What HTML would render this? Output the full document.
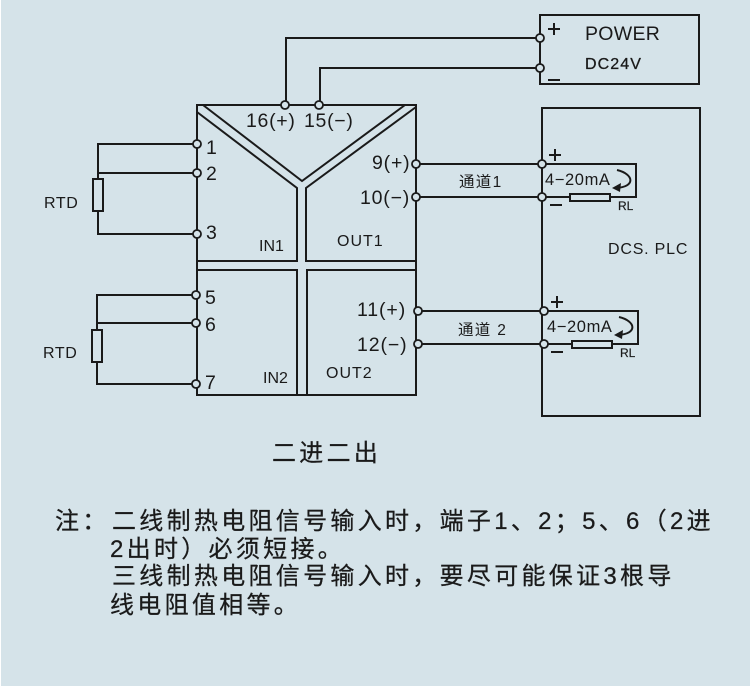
<!DOCTYPE html>
<html><head><meta charset="utf-8"><style>
html,body{margin:0;padding:0;background:#fff}
svg{display:block}
.l{fill:none;stroke:#1a1a1a;stroke-width:2}
.t{fill:#1a1a1a;stroke:none;font-family:"Liberation Sans","Noto Sans CJK SC",sans-serif}
.c{fill:#1a1a1a;stroke:#1a1a1a;stroke-width:.25;font-family:"Liberation Sans","Noto Sans CJK SC",sans-serif;font-size:24px;letter-spacing:3.3px}
.p{fill:#d5e3e9;stroke:#1a1a1a;stroke-width:1.8}
</style></head><body>
<svg width="750" height="687" viewBox="0 0 750 687" xmlns="http://www.w3.org/2000/svg">
<rect x="1" y="0" width="749" height="686" fill="#d5e3e9"/>
<g class="l">
<rect x="540" y="15" width="159" height="69"/>
<rect x="542" y="108" width="158" height="308"/>
<path d="M286 105V38H540M320 105V68H540"/>
<path d="M197 105H416V395H197Z"/>
<path d="M203 105L302 181L405 105M197 112L297 188V261H197M416 107L306 188V261H416M197 270H297V395M416 270H307V395"/>
<path d="M197 144H98V234H197M98 173H197"/>
<rect x="93" y="179" width="10" height="32" fill="#d5e3e9"/>
<path d="M197 295H97V384H197M97 323H197"/>
<rect x="92" y="330" width="10" height="32" fill="#d5e3e9"/>
<path d="M416 164H636V197H416M418 311H638V344H418"/>
<rect x="570" y="194" width="40" height="7" fill="#d5e3e9"/>
<rect x="572" y="341" width="40" height="7" fill="#d5e3e9"/>
<path d="M617 170C634 174 636 187 616 188M619 317C636 321 638 334 618 335"/>
<path d="M548 29H560M554 23V35M548 80H560M549 155H561M555 149V161M550 205H562M551 302H563M557 296V308M551 352H563"/>
</g>
<path d="M612 188L621 183L620 192ZM614 335L623 330L622 339Z" fill="#1a1a1a"/>
<g class="p">
<circle cx="540" cy="38" r="4"/><circle cx="540" cy="68" r="4"/>
<circle cx="285" cy="105" r="4"/><circle cx="319" cy="105" r="4"/>
<circle cx="197" cy="144" r="4"/><circle cx="197" cy="173" r="4"/><circle cx="197" cy="234" r="4"/>
<circle cx="196" cy="295" r="4"/><circle cx="196" cy="323" r="4"/><circle cx="196" cy="384" r="4"/>
<circle cx="416" cy="164" r="4"/><circle cx="416" cy="197" r="4"/>
<circle cx="418" cy="311" r="4"/><circle cx="418" cy="344" r="4"/>
<circle cx="542" cy="164" r="4"/><circle cx="542" cy="197" r="4"/>
<circle cx="544" cy="311" r="4"/><circle cx="544" cy="344" r="4"/>
</g>
<g class="t" font-size="19.5">
<text x="585" y="40" letter-spacing=".3">POWER</text>
<text x="585" y="69" font-size="16" letter-spacing="1.1" stroke="#1a1a1a" stroke-width=".3">DC24V</text>
<text x="246" y="127" letter-spacing=".7">16(+)</text>
<text x="304" y="127" letter-spacing=".7">15(−)</text>
<text x="372" y="169" letter-spacing=".8">9(+)</text>
<text x="360" y="204" letter-spacing=".8">10(−)</text>
<text x="357" y="316" letter-spacing=".9">11(+)</text>
<text x="357" y="351" letter-spacing=".9">12(−)</text>
<text x="206" y="154">1</text><text x="206" y="180">2</text><text x="206" y="239">3</text>
<text x="205" y="304">5</text><text x="205" y="331">6</text><text x="205" y="389">7</text>
<g font-size="16">
<text x="44" y="208" letter-spacing=".6">RTD</text><text x="43" y="358" letter-spacing=".6">RTD</text>
<text x="259" y="251">IN1</text><text x="263" y="383">IN2</text>
<text x="337" y="246" letter-spacing="1">OUT1</text><text x="326" y="378" letter-spacing="1">OUT2</text>
<text x="608" y="254" letter-spacing=".8">DCS. PLC</text>
<text x="459" y="187" font-size="15.5" letter-spacing="1.3">通道1</text><text x="458" y="335" font-size="15.5" letter-spacing="1.3">通道 2</text>
<text x="545" y="185" font-size="16.5" letter-spacing=".6">4−20mA</text><text x="547" y="332" font-size="16.5" letter-spacing=".6">4−20mA</text>
</g>
<text x="618" y="210" font-size="12" stroke="#1a1a1a" stroke-width=".2">RL</text><text x="620" y="357" font-size="12" stroke="#1a1a1a" stroke-width=".2">RL</text>
</g>
<text class="c" x="272" y="461">二进二出</text>
<text class="c" x="55" y="529">注：</text>
<text class="c" x="112" y="529">二线制热电阻信号输入时，端子1、2；5、6（2进</text>
<text class="c" x="110" y="557">2出时）必须短接。</text>
<text class="c" x="112" y="584">三线制热电阻信号输入时，要尽可能保证3根导</text>
<text class="c" x="110" y="613">线电阻值相等。</text>
</svg>
</body></html>
